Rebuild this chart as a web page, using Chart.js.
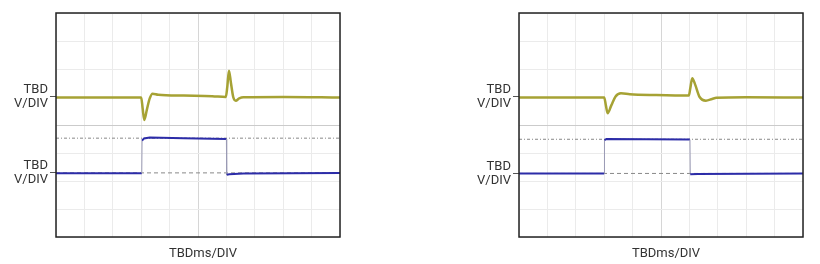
<!DOCTYPE html>
<html>
<head>
<meta charset="utf-8">
<script src="https://cdn.jsdelivr.net/npm/chart.js@4.4.0/dist/chart.umd.min.js"></script>
<style>
  body { margin: 0; background: #fff; }
  .panel { position: absolute; top: 0; }
</style>
</head>
<body>
<div class="panel" style="left:0px"><canvas id="leftChart" width="345" height="264"></canvas></div>
<div class="panel" style="left:463px"><canvas id="rightChart" width="345" height="264"></canvas></div>
<script>
// time in divisions (10 div across), amplitude in divisions (8 div high)
var left_yellow_t = [0, 3.0, 3.05, 3.11, 3.2, 3.3, 3.4, 3.6, 4.5, 5.5, 5.98, 6.03, 6.09, 6.16, 6.24, 6.33, 6.45, 6.6, 8, 10];
var left_yellow_v = [4.98, 4.98, 4.6, 4.18, 4.55, 4.95, 5.12, 5.08, 5.05, 5.03, 5.0, 5.35, 5.94, 5.5, 5.0, 4.87, 4.95, 4.99, 5.0, 4.98];
var left_blue_t = [0, 3.02, 3.03, 3.1, 3.3, 4.5, 6.0, 6.01, 6.1, 6.6, 10];
var left_blue_v = [2.28, 2.28, 3.44, 3.52, 3.55, 3.53, 3.5, 2.22, 2.24, 2.27, 2.29];
var left_ref_hi = 3.53;
var left_ref_lo = 2.29;

var right_yellow_t = [0, 3.0, 3.06, 3.12, 3.25, 3.4, 3.59, 3.9, 4.8, 5.98, 6.03, 6.1, 6.2, 6.36, 6.58, 6.8, 6.95, 8, 10];
var right_yellow_v = [4.98, 4.98, 4.7, 4.42, 4.7, 5.02, 5.13, 5.1, 5.07, 5.05, 5.3, 5.67, 5.45, 5.0, 4.87, 4.93, 4.97, 4.99, 4.98];
var right_blue_t = [0, 3.0, 3.01, 3.08, 4.5, 6.02, 6.03, 6.3, 10];
var right_blue_v = [2.27, 2.27, 3.46, 3.5, 3.49, 3.48, 2.24, 2.25, 2.27];
var right_ref_hi = 3.49;
var right_ref_lo = 2.27;

var y_label = ['TBD', 'V/DIV'];
var x_caption = 'TBDms/DIV';

var FONT = "'Roboto', sans-serif";

function to_points(t, v) {
    var pts = [];
    for (var i = 0; i < t.length; i++) pts.push({x: t[i], y: v[i]});
    return pts;
}

var scopeFrame = {
    id: 'scopeFrame',
    afterDraw: function(chart) {
        var a = chart.chartArea;
        var c = chart.ctx;
        c.save();
        c.strokeStyle = '#222';
        c.lineWidth = 1.5;
        c.strokeRect(a.left, a.top, a.right - a.left, a.bottom - a.top);
        c.fillStyle = '#333';
        c.font = '13px ' + FONT;
        c.textAlign = 'center';
        c.textBaseline = 'middle';
        c.fillText(x_caption, (a.left + a.right) / 2 + 5, 254);
        c.restore();
    }
};

function draw_scope(id, yt, yv, bt, bv, ref_hi, ref_lo) {
    var ctx = document.getElementById(id).getContext('2d');
    var edge = function(c) {
        var dx = c.p1.parsed.x - c.p0.parsed.x;
        var dy = Math.abs(c.p1.parsed.y - c.p0.parsed.y);
        return (dx < 0.03 && dy > 0.8) ? '#9a9ab4' : undefined;
    };
    var labeled = function(v) { return v === ref_lo || v === 5.0001; };
    return new Chart(ctx, {
        type: 'line',
        data: {
            datasets: [{
                data: to_points(yt, yv),
                borderColor: '#a6a234',
                borderWidth: 2.5,
                pointRadius: 0,
                cubicInterpolationMode: 'monotone'
            }, {
                data: to_points(bt, bv),
                borderColor: '#2c2ca8',
                borderWidth: 2,
                pointRadius: 0,
                segment: { borderColor: edge, borderWidth: function(c) { return edge(c) ? 1 : undefined; } }
            }, {
                data: [{x: 0, y: ref_hi}, {x: 10, y: ref_hi}],
                borderColor: '#888',
                borderWidth: 1,
                borderDash: [3, 2, 1, 2],
                pointRadius: 0
            }, {
                data: [{x: 0, y: ref_lo}, {x: 10, y: ref_lo}],
                borderColor: '#888',
                borderWidth: 1,
                borderDash: [4, 3],
                pointRadius: 0
            }]
        },
        options: {
            responsive: false,
            animation: false,
            devicePixelRatio: 1,
            layout: { padding: { top: 13, right: 5, left: 0, bottom: 0 } },
            plugins: { legend: { display: false }, tooltip: { enabled: false } },
            scales: {
                x: {
                    type: 'linear',
                    min: 0,
                    max: 10,
                    ticks: { stepSize: 1, display: false },
                    border: { display: false },
                    grid: {
                        drawTicks: false,
                        color: function(c) { return c.tick && c.tick.value === 5 ? '#d6d6d6' : '#ebebeb'; }
                    },
                    afterFit: function(s) { s.height = 27; }
                },
                y: {
                    type: 'linear',
                    min: 0,
                    max: 8,
                    afterBuildTicks: function(s) {
                        var vals = [0, 1, 2, 3, 4, 5.0001, 6, 7, 8, ref_lo];
                        vals.sort(function(a, b) { return a - b; });
                        s.ticks = vals.map(function(v) { return {value: v}; });
                    },
                    ticks: {
                        autoSkip: false,
                        padding: 2,
                        color: '#333',
                        font: { family: FONT, size: 13, lineHeight: 1.1 },
                        callback: function(v) { return labeled(v) ? y_label : ''; }
                    },
                    border: { display: false },
                    grid: {
                        tickLength: 6,
                        color: function(c) {
                            var v = c.tick ? c.tick.value : 0;
                            if (labeled(v)) return 'rgba(0,0,0,0)';
                            return v === 4 ? '#cbcbcb' : '#ebebeb';
                        },
                        tickColor: function(c) {
                            var v = c.tick ? c.tick.value : 0;
                            return labeled(v) ? '#555' : 'rgba(0,0,0,0)';
                        }
                    },
                    afterFit: function(s) { s.width = 56; }
                }
            }
        },
        plugins: [scopeFrame]
    });
}

var left_chart = draw_scope('leftChart', left_yellow_t, left_yellow_v, left_blue_t, left_blue_v, left_ref_hi, left_ref_lo);
var right_chart = draw_scope('rightChart', right_yellow_t, right_yellow_v, right_blue_t, right_blue_v, right_ref_hi, right_ref_lo);
</script>
</body>
</html>
